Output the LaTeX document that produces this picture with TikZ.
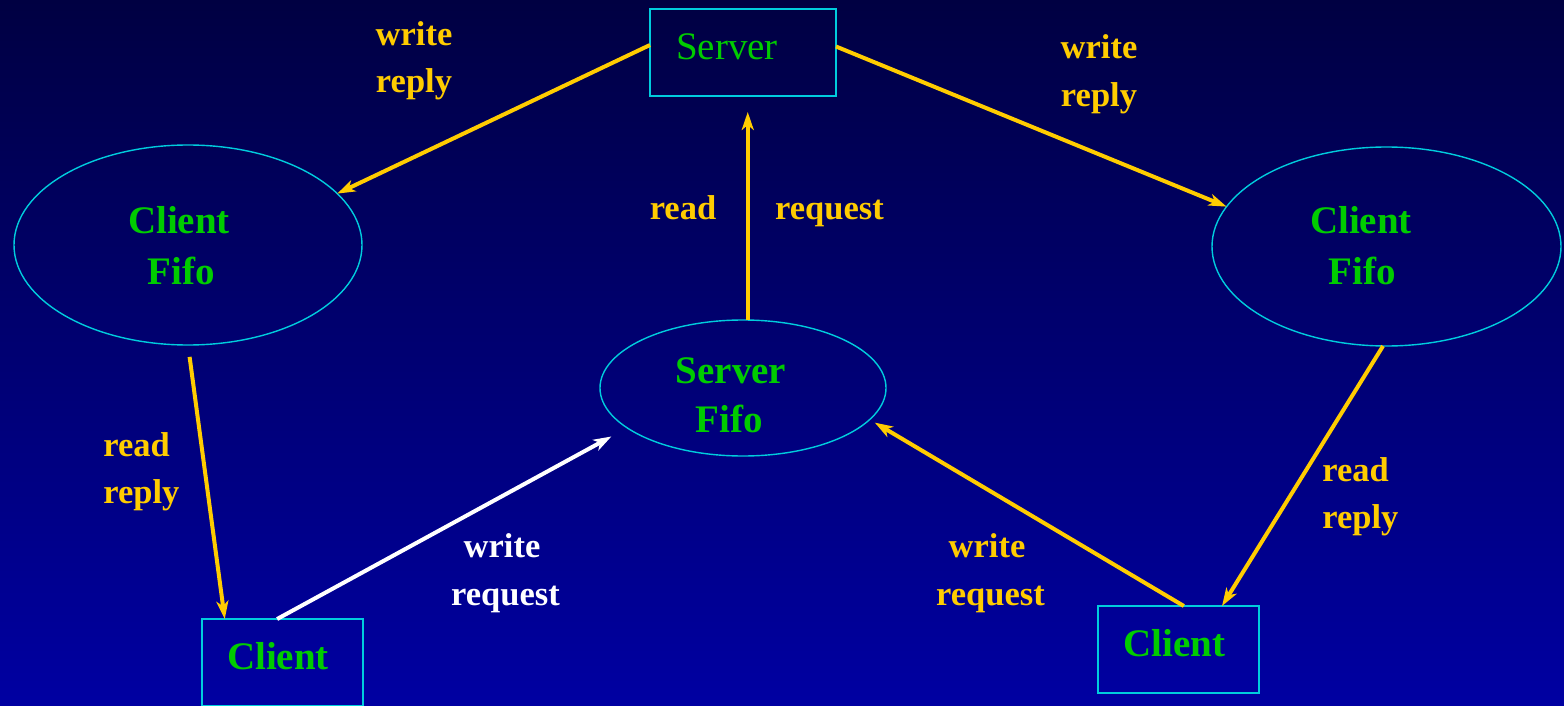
\documentclass[tikz,border=0pt]{standalone}
\usepackage{fontspec}
\setmainfont{Liberation Serif}
\usetikzlibrary{arrows.meta,shapes.geometric}
\definecolor{bgtop}{RGB}{0,0,66}
\definecolor{bgbot}{RGB}{0,0,162}
\definecolor{lblyellow}{RGB}{255,204,0}
\definecolor{txtgreen}{RGB}{0,204,0}
\definecolor{edgecyan}{RGB}{0,204,221}
\tikzset{
  boxnode/.style={draw=edgecyan, line width=0.7pt, rectangle, inner sep=0pt, outer sep=0pt},
  ovalnode/.style={draw=edgecyan, line width=0.7pt, ellipse, inner sep=0pt, outer sep=0pt},
  bigtxt/.style={text=txtgreen, font=\fontsize{19.5}{24}\selectfont\bfseries, anchor=base, inner sep=0pt},
  srvtxt/.style={text=txtgreen, font=\fontsize{19.5}{24}\selectfont, anchor=base, inner sep=0pt},
  lbl/.style={text=lblyellow, font=\fontsize{17.25}{22}\selectfont\bfseries, anchor=base, inner sep=0pt},
  wlbl/.style={lbl, text=white},
  arr/.style={draw=lblyellow, line width=2pt, -{Stealth[length=9pt,width=6pt,inset=2.5pt]}},
  warr/.style={arr, draw=white},
}
\begin{document}
\begin{tikzpicture}[x=0.5pt,y=-0.5pt]
\shade[top color=bgtop, bottom color=bgbot] (0,0) rectangle (1564,706);
\useasboundingbox (0,0) rectangle (1564,706);

% shapes
\node[boxnode, minimum width=93pt, minimum height=43.5pt] (server) at (743,52.5) {};
\node[boxnode, minimum width=80.5pt, minimum height=43.5pt] (lclient) at (282.5,662.5) {};
\node[boxnode, minimum width=80.5pt, minimum height=43.5pt] (rclient) at (1178.5,649.5) {};
\node[ovalnode, minimum width=174pt, minimum height=100pt] (lfifo) at (188,245) {};
\node[ovalnode, minimum width=174.5pt, minimum height=99.5pt] (rfifo) at (1386.5,246.5) {};
\node[ovalnode, minimum width=143pt, minimum height=68pt] (sfifo) at (743,388) {};

% shape texts
\node[srvtxt] (serverT) at (727,60) {Server};
\node[bigtxt] (lclientT) at (278,669) {Client};
\node[bigtxt] (rclientT) at (1174.5,656) {Client};
\node[bigtxt] (lfifoT1) at (179,233) {Client};
\node[bigtxt] (lfifoT2) at (181,284) {Fifo};
\node[bigtxt] (rfifoT1) at (1361,233) {Client};
\node[bigtxt] (rfifoT2) at (1362,284) {Fifo};
\node[bigtxt] (sfifoT1) at (731,383) {Server};
\node[bigtxt] (sfifoT2) at (729,432) {Fifo};

% connectors
\draw[arr] ([yshift=3.75pt]server.west) -- (lfifo.19);
\draw[arr] ([yshift=3pt]server.east) -- (rfifo.166);
\draw[arr, shorten >=8pt] (sfifo.86) -- (sfifo.86 |- server.south);
\draw[arr, shorten <=6pt] (lfifo.south) -- (lclient.143);
\draw[warr, shorten >=9pt] (lclient.97) -- (sfifo.199);
\draw[arr, shorten >=3pt] (rclient.83) -- (sfifo.346);
\draw[arr] (rfifo.268) -- (rclient.45);

% labels
\node[lbl] (l1a) at (414,46) {write};
\node[lbl] (l1b) at (414,93) {reply};
\node[lbl] (l2a) at (1099,59) {write};
\node[lbl] (l2b) at (1099,107) {reply};
\node[lbl] (l3a) at (683,220) {read};
\node[lbl] (l3b) at (829.5,220) {request};
\node[lbl, anchor=base west] (l4a) at (103,456) {read};
\node[lbl, anchor=base west] (l4b) at (103,503) {reply};
\node[wlbl] (l5a) at (502,557) {write};
\node[wlbl] (l5b) at (505.5,605) {request};
\node[lbl] (l6a) at (987,557) {write};
\node[lbl] (l6b) at (990.5,605) {request};
\node[lbl, anchor=base west] (l7a) at (1322,481) {read};
\node[lbl, anchor=base west] (l7b) at (1322,528) {reply};
\end{tikzpicture}
\end{document}
